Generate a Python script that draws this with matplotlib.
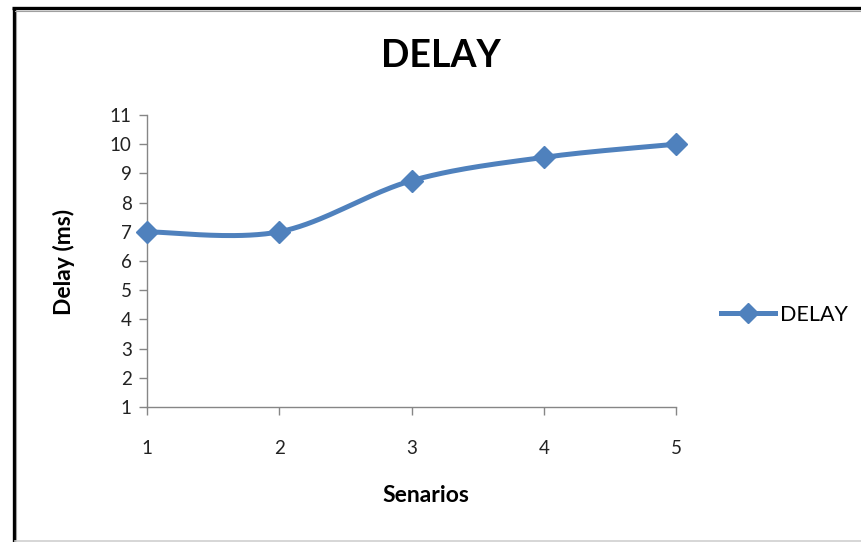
import numpy as np
import matplotlib
matplotlib.use("Agg")
import matplotlib.pyplot as plt
from matplotlib.lines import Line2D

# scenario numbers and measured delay
senarios = [1, 2, 3, 4, 5]
delay_ms = [7.0, 7.0, 8.75, 9.55, 10.0]
y_ticks = list(range(1, 12))

plt.rcParams['font.family'] = ['Lato', 'DejaVu Sans']

line_color = '#4F81BD'
axis_color = '#868686'


def smooth_curve(xs, ys, n=40):
    # spreadsheet-style smoothed line: cubic Bezier segments through each point
    xs = np.asarray(xs, float)
    ys = np.asarray(ys, float)
    px = np.concatenate([[xs[0]], xs, [xs[-1]]])
    py = np.concatenate([[ys[0]], ys, [ys[-1]]])
    out_x, out_y = [], []
    t = np.linspace(0, 1, n)
    for i in range(1, len(px) - 2):
        p0 = np.array([px[i], py[i]])
        p3 = np.array([px[i + 1], py[i + 1]])
        p1 = p0 + (p3 - np.array([px[i - 1], py[i - 1]])) / 6
        p2 = p3 - (np.array([px[i + 2], py[i + 2]]) - p0) / 6
        b = ((1 - t) ** 3)[:, None] * p0 + (3 * (1 - t) ** 2 * t)[:, None] * p1 \
            + (3 * (1 - t) * t ** 2)[:, None] * p2 + (t ** 3)[:, None] * p3
        out_x.extend(b[:, 0])
        out_y.extend(b[:, 1])
    return out_x, out_y


W, H = 861, 542
fig = plt.figure(figsize=(W / 100, H / 100), dpi=100)
ax = fig.add_axes([147 / W, 1 - 407 / H, 529 / W, 292 / H])

cx, cy = smooth_curve(senarios, delay_ms)
ax.plot(cx, cy, color=line_color, lw=3.6, solid_capstyle='round', zorder=3)
ax.plot(senarios, delay_ms, ls='none', marker='D', ms=11, color=line_color,
        zorder=4, clip_on=False)

ax.set_xlim(1, 5)
ax.set_ylim(1, 11)
ax.set_xticks(senarios)
ax.set_yticks(y_ticks)
ax.tick_params(axis='both', colors=axis_color, labelcolor='#222222',
               labelsize=13.5, length=6, width=1)
ax.tick_params(axis='x', pad=18)
ax.tick_params(axis='y', pad=5)
for side in ['top', 'right']:
    ax.spines[side].set_visible(False)
for side in ['left', 'bottom']:
    ax.spines[side].set_color(axis_color)
    ax.spines[side].set_linewidth(1)

# axis titles and chart title
fig.text(426 / W, 1 - 495 / H, 'Senarios', ha='center', va='center',
         fontsize=16.5, fontweight='bold')
fig.text(64 / W, 1 - 262 / H, 'Delay (ms)', ha='center', va='center',
         rotation=90, fontsize=16.5, fontweight='bold')
fig.text(441 / W, 1 - 56 / H, 'DELAY', ha='center', va='center', fontsize=27,
         fontweight='bold')

handle = Line2D([], [], color=line_color, lw=3.6, marker='D', ms=10)
fig.legend([handle], ['DELAY'], loc='center left',
           bbox_to_anchor=(704 / W, 1 - 315 / H), frameon=False, fontsize=15.5,
           handlelength=2.5, handletextpad=0.25, borderpad=0.3)

# outer chart border: dark left/top edges with grey inner shade, grey bottom
fig.add_artist(Line2D([13.5 / W, 13.5 / W], [0, 1 - 8 / H], color='black',
                      lw=2.4, transform=fig.transFigure, solid_capstyle='butt'))
fig.add_artist(Line2D([12.3 / W, 1], [1 - 8 / H, 1 - 8 / H], color='black',
                      lw=2.4, transform=fig.transFigure, solid_capstyle='butt'))
fig.add_artist(Line2D([16 / W, 16 / W], [0, 1 - 10 / H], color='#a0a0a0',
                      lw=0.8, transform=fig.transFigure))
fig.add_artist(Line2D([15 / W, 1], [1 - 10.5 / H, 1 - 10.5 / H], color='#a0a0a0',
                      lw=0.8, transform=fig.transFigure))
fig.add_artist(Line2D([15 / W, 1], [1.5 / H, 1.5 / H], color='#d0d0d0',
                      lw=1.2, transform=fig.transFigure))

fig.savefig('out.png', dpi=100)
